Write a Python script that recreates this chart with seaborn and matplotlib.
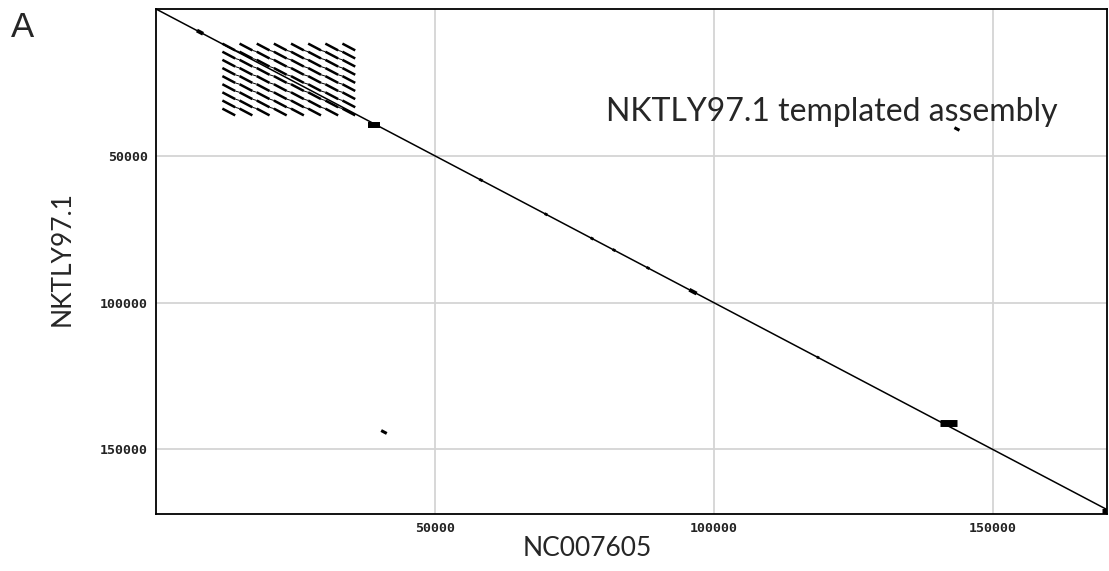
import numpy as np
import pandas as pd
import matplotlib
matplotlib.use('Agg')
import matplotlib.pyplot as plt
import seaborn as sns

#%% ----------------- data (bp) ----------------------------------------
ref_len = 170500      # NC007605 axis end
qry_len = 172000      # NKTLY97.1 axis end
diag_end = 171823

# tandem repeat block (IR1): dash start positions on x, dash centres on y
repeat_x = [11900, 14980, 18060, 21130, 24210, 27280, 30360, 33420]
repeat_y = [12940, 15700, 18460, 21250, 24010, 26770, 29530, 32320, 35080]
repeat_len = 2300

# short thickenings along the main diagonal: centre, half length, kind
feat_x = [7890, 58260, 69920, 78170, 82110, 88210, 96270, 118680]
feat_half = [550, 300, 250, 250, 250, 250, 650, 200]
feat_kind = ['small', 'tiny', 'tiny', 'tiny', 'tiny', 'tiny', 'small', 'tiny']

# filled blocks on the diagonal: x start, x end, y centre
block_x0 = [38000, 140560, 169540]
block_x1 = [40150, 143550, 171823]
block_y = [39510, 141110, 170980]
block_kind = ['big', 'huge', 'end']

# off-diagonal hits: x centre, y centre, half length
off_x = [143600, 40870]
off_y = [40870, 144070]
off_half = [450, 500]

ticks = [50000, 100000, 150000]
tick_labels = ['50000', '100000', '150000']

#%% ----------------- build segment table -----------------
rows = []
seg = 0


def add_seg(kind, x0, y0, x1, y1):
    global seg
    rows.append((seg, kind, x0, y0))
    rows.append((seg, kind, x1, y1))
    seg += 1


add_seg('main', 0, 0, diag_end, diag_end)

# repeat dashes, plus faint links between dashes on the same diagonal
half = repeat_len / 2
for i, rx in enumerate(repeat_x):
    for j, ry in enumerate(repeat_y):
        add_seg('repeat', rx, ry - half, rx + repeat_len, ry + half)
        if i + 1 < len(repeat_x) and j + 1 < len(repeat_y):
            add_seg('link', rx + repeat_len, ry + half,
                    repeat_x[i + 1], repeat_y[j + 1] - half)

for fx, fh, fk in zip(feat_x, feat_half, feat_kind):
    add_seg(fk, fx - fh, fx - fh, fx + fh, fx + fh)
for x0, x1, yc, bk in zip(block_x0, block_x1, block_y, block_kind):
    add_seg(bk, x0, yc, x1, yc)
for ox, oy, oh in zip(off_x, off_y, off_half):
    add_seg('off', ox - oh, oy - oh, ox + oh, oy + oh)

dots = pd.DataFrame(rows, columns=['seg', 'kind', 'x', 'y'])

#%% ----------------- plot -----------------
sns.set_theme(style='white')
plt.rcParams['font.family'] = ['Lato', 'DejaVu Sans']

fig = plt.figure(figsize=(11.09, 5.71), dpi=100)
ax = fig.add_axes([156 / 1109, 1 - 514 / 571, 951 / 1109, 505 / 571])

sizes = {'main': 1.1, 'repeat': 1.8, 'link': 0.7, 'tiny': 2.0, 'small': 2.8,
         'off': 2.2, 'big': 4.3, 'huge': 5.0, 'end': 3.6}
sns.lineplot(data=dots, x='x', y='y', units='seg', estimator=None, sort=False,
             size='kind', sizes=sizes, color='black', legend=False,
             solid_capstyle='butt', ax=ax)

ax.set_xlim(0, ref_len)
ax.set_ylim(qry_len, 0)
ax.set_xticks(ticks)
ax.set_yticks(ticks)
ax.set_xticklabels(tick_labels, family='DejaVu Sans Mono', weight='bold', fontsize=9.5, color='#222222')
ax.set_yticklabels(tick_labels, family='DejaVu Sans Mono', weight='bold', fontsize=9.5, color='#222222')
ax.tick_params(axis='both', length=4, width=1, color='#bbbbbb', pad=2)
ax.grid(True, color='#d4d4d4', linewidth=1.3)
ax.set_axisbelow(True)
for sp in ax.spines.values():
    sp.set_color('black')
    sp.set_linewidth(1.3)

ax.set_xlabel('NC007605', fontsize=19)
ax.set_ylabel('NKTLY97.1', fontsize=19)
ax.xaxis.label.set_va('center')
ax.yaxis.label.set_va('center')
ax.xaxis.set_label_coords((587 - 156) / 951, (514 - 548) / 505)
ax.yaxis.set_label_coords((62 - 156) / 951, (514 - 258) / 505)

ax.text((832 - 156) / 951, (514 - 121) / 505, 'NKTLY97.1 templated assembly',
        transform=ax.transAxes, ha='center', va='baseline', fontsize=23)
fig.text(11 / 1109, 1 - 37 / 571, 'A', family='Liberation Sans', fontsize=25,
         ha='left', va='baseline')

fig.savefig('out.png', dpi=100)
